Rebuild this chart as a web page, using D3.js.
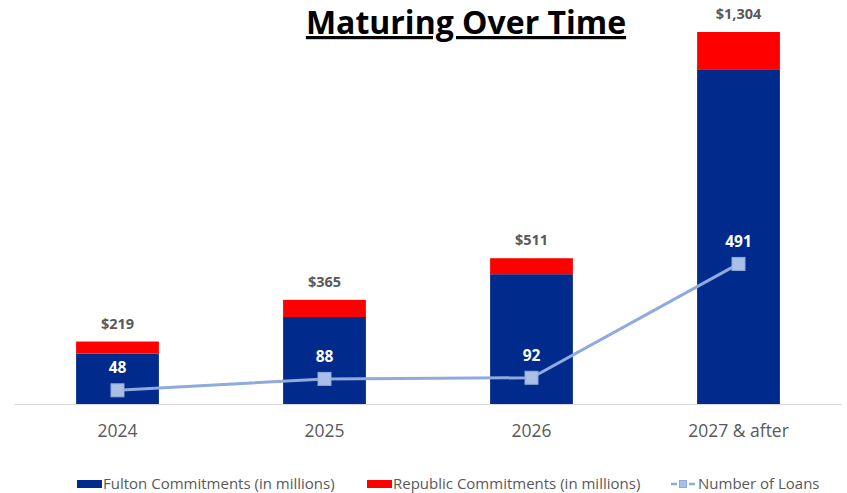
<!DOCTYPE html>
<html>
<head>
<meta charset="utf-8">
<script src="https://cdn.jsdelivr.net/npm/d3@7"></script>
<style>
  html, body { margin: 0; padding: 0; background: #ffffff; }
  svg { display: block; font-family: "Open Sans", "Noto Sans", sans-serif; }
</style>
</head>
<body>
<svg id="chart" width="847" height="493"></svg>
<script>
// Maturity buckets and commitments (in millions)
const categories = ["2024", "2025", "2026", "2027 & after"];
const fulton = [177, 305, 455, 1171];
const republic = [42, 60, 56, 133];
const totalLabels = ["$219", "$365", "$511", "$1,304"];
const loans = [48, 88, 92, 491];

const colors = { fulton: "#002b8c", republic: "#ff0000", line: "#8faadc", marker: "#a9bfe6" };

const svg = d3.select("#chart");
const baseY = 404;

const x = d3.scaleBand().domain(categories).range([14, 842]).paddingInner(0.6).paddingOuter(0.3);
const y = d3.scaleLinear().domain([0, 1304]).range([baseY, 32]);
const y2 = d3.scaleLinear().domain([0, 1304]).range([baseY, 32]);

// Title
svg.append("text")
  .attr("x", 466).attr("y", 34)
  .attr("text-anchor", "middle")
  .attr("font-size", 32).attr("font-weight", 700)
  .attr("fill", "#000")
  .attr("text-decoration", "underline")
  .text("Maturing Over Time");

// Stacked bars
const rows = categories.map((c, i) => ({ cat: c, fulton: fulton[i], republic: republic[i] }));
const stack = d3.stack().keys(["fulton", "republic"])(rows);

svg.append("g").selectAll("g").data(stack).join("g")
  .attr("fill", d => colors[d.key])
  .selectAll("rect").data(d => d).join("rect")
  .attr("x", d => x(d.data.cat))
  .attr("width", x.bandwidth())
  .attr("y", d => y(d[1]))
  .attr("height", d => y(d[0]) - y(d[1]));

// Category axis
const xAxis = svg.append("g").attr("transform", `translate(0,${baseY})`)
  .call(d3.axisBottom(x).tickSize(0).tickPadding(21));
xAxis.select(".domain").attr("stroke", "#d9d9d9").attr("d", "M14,0.5H842");
xAxis.selectAll("text").attr("font-size", 17.5).attr("fill", "#595959")
  .attr("font-family", "'Open Sans', sans-serif");

// Total labels
svg.append("g").selectAll("text").data(rows).join("text")
  .attr("x", d => x(d.cat) + x.bandwidth() / 2)
  .attr("y", d => y(d.fulton + d.republic) - 13)
  .attr("text-anchor", "middle")
  .attr("font-size", 14.5).attr("font-weight", 700).attr("fill", "#595959")
  .text((d, i) => totalLabels[i]);

// Number of loans line
const cx = c => x(c) + x.bandwidth() / 2;
svg.append("path")
  .datum(loans)
  .attr("fill", "none").attr("stroke", colors.line).attr("stroke-width", 3)
  .attr("d", d3.line().x((d, i) => cx(categories[i])).y(d => y2(d)));

svg.append("g").selectAll("rect").data(loans).join("rect")
  .attr("x", (d, i) => cx(categories[i]) - 6.5)
  .attr("y", d => y2(d) - 6.5)
  .attr("width", 13).attr("height", 13)
  .attr("fill", colors.marker).attr("stroke", colors.line).attr("stroke-width", 1);

svg.append("g").selectAll("text").data(loans).join("text")
  .attr("x", (d, i) => cx(categories[i]))
  .attr("y", d => y2(d) - 17)
  .attr("text-anchor", "middle")
  .attr("font-size", 15.5).attr("font-weight", 700).attr("fill", "#ffffff")
  .text(d => d);

// Legend
const legend = svg.append("g").attr("transform", "translate(0,484)");
const items = [
  { label: "Fulton Commitments (in millions)", type: "box", color: colors.fulton, x: 77 },
  { label: "Republic Commitments (in millions)", type: "box", color: colors.republic, x: 367 },
  { label: "Number of Loans", type: "line", color: colors.line, x: 671 }
];
items.forEach(it => {
  const g = legend.append("g").attr("transform", `translate(${it.x},0)`);
  if (it.type === "box") {
    g.append("rect").attr("x", 0).attr("y", -4).attr("width", 25).attr("height", 8).attr("fill", it.color);
  } else {
    g.append("line").attr("x1", 0).attr("x2", 24).attr("y1", 0).attr("y2", 0)
      .attr("stroke", it.color).attr("stroke-width", 2.5).attr("stroke-dasharray", "6,2,8,2,6");
    g.append("rect").attr("x", 8.5).attr("y", -3.5).attr("width", 7).attr("height", 7)
      .attr("fill", colors.marker).attr("stroke", it.color);
  }
  g.append("text").attr("x", it.type === "box" ? 26 : 27).attr("y", 5)
    .attr("font-size", 15).attr("fill", "#595959")
    .text(it.label);
});
</script>
</body>
</html>
